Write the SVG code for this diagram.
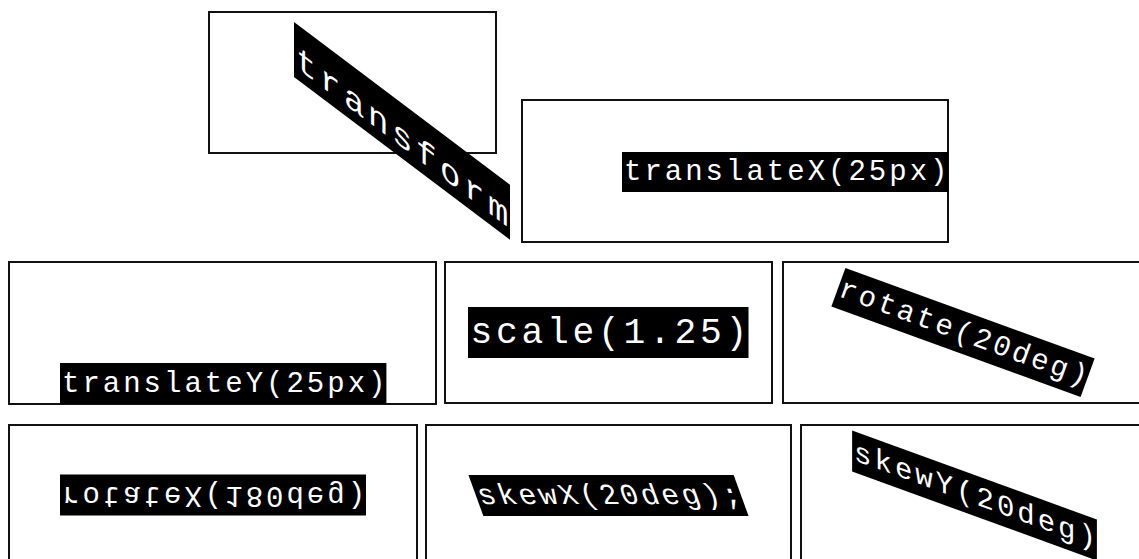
<svg xmlns="http://www.w3.org/2000/svg" width="1139" height="559" viewBox="0 0 1139 559">
<style>
.box{fill:none;stroke:#111;stroke-width:2}
.lbl{fill:#000}
.t{fill:#fff;font-family:"Liberation Mono","Courier New",monospace;font-size:29px;letter-spacing:3px}
</style>
<rect width="1139" height="559" fill="#fff"/>
<g id="transform">
<rect class="box" x="209" y="12" width="287" height="141"/>
<g transform="translate(294,22) skewY(37)">
<rect class="lbl" x="0" y="0" width="216" height="55"/>
<text class="t" x="2" y="44" style="font-size:34px;letter-spacing:3.6px">transform</text>
</g>
</g>
<g id="translateX">
<rect class="box" x="522" y="100" width="426" height="142"/>
<rect class="lbl" x="622" y="152" width="326.4" height="40"/>
<text class="t" x="624" y="180">translateX(25px)</text>
</g>
<g id="translateY">
<rect class="box" x="9" y="262" width="427" height="142"/>
<rect class="lbl" x="60" y="363" width="326.4" height="41"/>
<text class="t" x="62" y="392">translateY(25px)</text>
</g>
<g id="scale">
<rect class="box" x="445" y="262" width="327" height="141"/>
<rect class="lbl" x="468" y="307" width="280.5" height="51"/>
<text class="t" x="470.5" y="343" style="font-size:36.25px;letter-spacing:3.75px">scale(1.25)</text>
</g>
<g id="rotate">
<rect class="box" x="783" y="262" width="370" height="141"/>
<g transform="translate(963,332.5) rotate(20)">
<rect class="lbl" x="-132.6" y="-20.5" width="265.2" height="41"/>
<text class="t" x="-130.6" y="8.5">rotate(20deg)</text>
</g>
</g>
<g id="rotateX">
<rect class="box" x="9" y="425" width="408" height="150"/>
<g transform="translate(213,495) scale(1,-1)">
<rect class="lbl" x="-153" y="-20.5" width="306" height="41"/>
<text class="t" x="-151" y="8.5">rotateX(180deg)</text>
</g>
</g>
<g id="skewX">
<rect class="box" x="426" y="425" width="365" height="150"/>
<g transform="translate(608.5,495.5) skewX(20)">
<rect class="lbl" x="-132.6" y="-20.5" width="265.2" height="41"/>
<text class="t" x="-130.6" y="8.5">skewX(20deg);</text>
</g>
</g>
<g id="skewY">
<rect class="box" x="801" y="425" width="350" height="150"/>
<g transform="translate(974.5,495.5) skewY(20)">
<rect class="lbl" x="-122.4" y="-20.5" width="244.8" height="41"/>
<text class="t" x="-120.4" y="8.5">skewY(20deg)</text>
</g>
</g>
<g id="connectors"></g>
</svg>
